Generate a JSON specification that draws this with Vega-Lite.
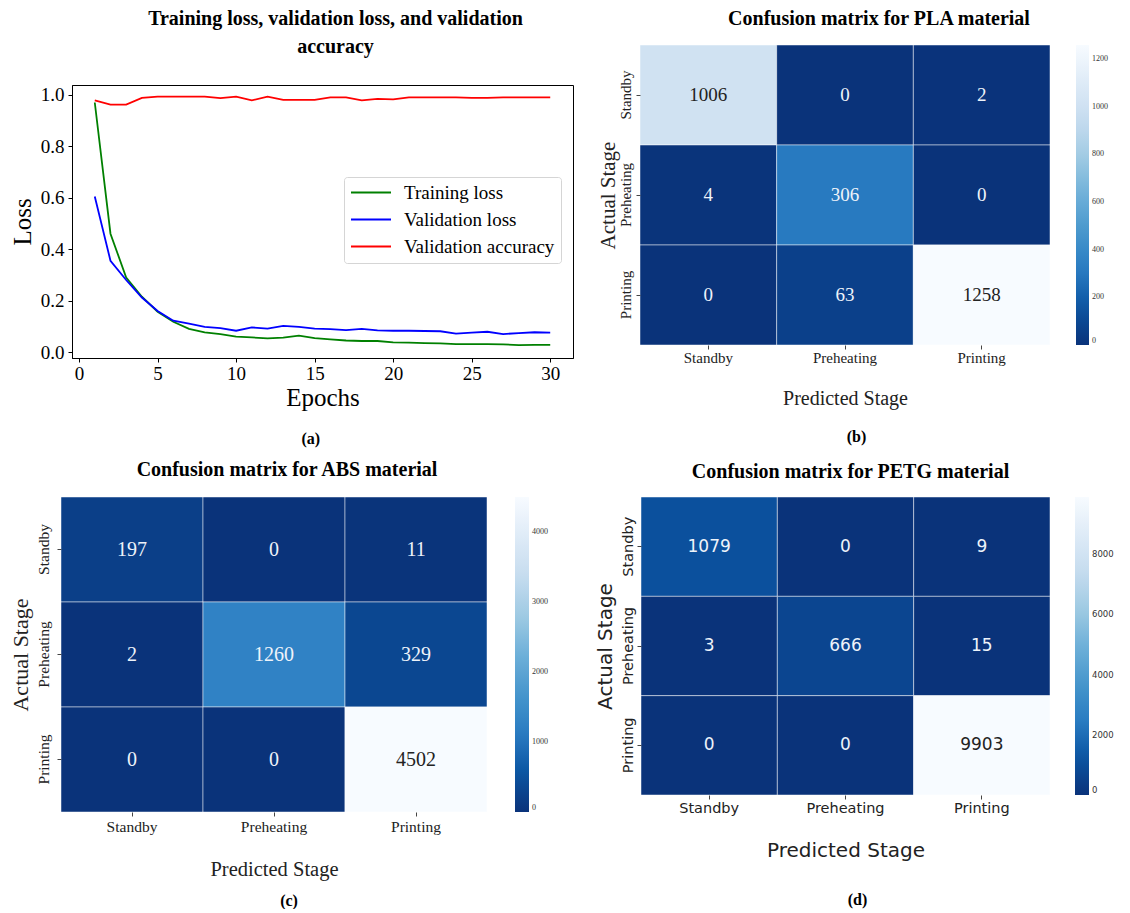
{
  "$schema": "https://vega.github.io/schema/vega-lite/v6.json",
  "background": "white",
  "padding": {"left": 8, "top": 7, "right": 0, "bottom": 0},
  "config": {
    "font": "Liberation Serif",
    "view": {"stroke": null},
    "title": {"color": "black", "font": "Liberation Serif"},
    "axis": {"labelColor": "black", "titleColor": "black", "titleFontWeight": "normal", "grid": false}
  },
  "datasets": {
    "empty": [],
    "loss": [
      {"epoch": 1, "series": "Training loss", "value": 0.97},
      {"epoch": 2, "series": "Training loss", "value": 0.46},
      {"epoch": 3, "series": "Training loss", "value": 0.29},
      {"epoch": 4, "series": "Training loss", "value": 0.215},
      {"epoch": 5, "series": "Training loss", "value": 0.157},
      {"epoch": 6, "series": "Training loss", "value": 0.118},
      {"epoch": 7, "series": "Training loss", "value": 0.09},
      {"epoch": 8, "series": "Training loss", "value": 0.077},
      {"epoch": 9, "series": "Training loss", "value": 0.07},
      {"epoch": 10, "series": "Training loss", "value": 0.06},
      {"epoch": 11, "series": "Training loss", "value": 0.057},
      {"epoch": 12, "series": "Training loss", "value": 0.053},
      {"epoch": 13, "series": "Training loss", "value": 0.056},
      {"epoch": 14, "series": "Training loss", "value": 0.064},
      {"epoch": 15, "series": "Training loss", "value": 0.054},
      {"epoch": 16, "series": "Training loss", "value": 0.049},
      {"epoch": 17, "series": "Training loss", "value": 0.045},
      {"epoch": 18, "series": "Training loss", "value": 0.043},
      {"epoch": 19, "series": "Training loss", "value": 0.043},
      {"epoch": 20, "series": "Training loss", "value": 0.038},
      {"epoch": 21, "series": "Training loss", "value": 0.037},
      {"epoch": 22, "series": "Training loss", "value": 0.035},
      {"epoch": 23, "series": "Training loss", "value": 0.034},
      {"epoch": 24, "series": "Training loss", "value": 0.031},
      {"epoch": 25, "series": "Training loss", "value": 0.031},
      {"epoch": 26, "series": "Training loss", "value": 0.031},
      {"epoch": 27, "series": "Training loss", "value": 0.03},
      {"epoch": 28, "series": "Training loss", "value": 0.027},
      {"epoch": 29, "series": "Training loss", "value": 0.028},
      {"epoch": 30, "series": "Training loss", "value": 0.028},
      {"epoch": 1, "series": "Validation loss", "value": 0.605},
      {"epoch": 2, "series": "Validation loss", "value": 0.355},
      {"epoch": 3, "series": "Validation loss", "value": 0.28},
      {"epoch": 4, "series": "Validation loss", "value": 0.212},
      {"epoch": 5, "series": "Validation loss", "value": 0.16},
      {"epoch": 6, "series": "Validation loss", "value": 0.122},
      {"epoch": 7, "series": "Validation loss", "value": 0.111},
      {"epoch": 8, "series": "Validation loss", "value": 0.098},
      {"epoch": 9, "series": "Validation loss", "value": 0.093},
      {"epoch": 10, "series": "Validation loss", "value": 0.083},
      {"epoch": 11, "series": "Validation loss", "value": 0.096},
      {"epoch": 12, "series": "Validation loss", "value": 0.091},
      {"epoch": 13, "series": "Validation loss", "value": 0.102},
      {"epoch": 14, "series": "Validation loss", "value": 0.098},
      {"epoch": 15, "series": "Validation loss", "value": 0.091},
      {"epoch": 16, "series": "Validation loss", "value": 0.089},
      {"epoch": 17, "series": "Validation loss", "value": 0.085},
      {"epoch": 18, "series": "Validation loss", "value": 0.09},
      {"epoch": 19, "series": "Validation loss", "value": 0.084},
      {"epoch": 20, "series": "Validation loss", "value": 0.083},
      {"epoch": 21, "series": "Validation loss", "value": 0.083},
      {"epoch": 22, "series": "Validation loss", "value": 0.082},
      {"epoch": 23, "series": "Validation loss", "value": 0.081},
      {"epoch": 24, "series": "Validation loss", "value": 0.072},
      {"epoch": 25, "series": "Validation loss", "value": 0.076},
      {"epoch": 26, "series": "Validation loss", "value": 0.079},
      {"epoch": 27, "series": "Validation loss", "value": 0.07},
      {"epoch": 28, "series": "Validation loss", "value": 0.074},
      {"epoch": 29, "series": "Validation loss", "value": 0.077},
      {"epoch": 30, "series": "Validation loss", "value": 0.076},
      {"epoch": 1, "series": "Validation accuracy", "value": 0.978},
      {"epoch": 2, "series": "Validation accuracy", "value": 0.962},
      {"epoch": 3, "series": "Validation accuracy", "value": 0.962},
      {"epoch": 4, "series": "Validation accuracy", "value": 0.988},
      {"epoch": 5, "series": "Validation accuracy", "value": 0.993},
      {"epoch": 6, "series": "Validation accuracy", "value": 0.993},
      {"epoch": 7, "series": "Validation accuracy", "value": 0.993},
      {"epoch": 8, "series": "Validation accuracy", "value": 0.993},
      {"epoch": 9, "series": "Validation accuracy", "value": 0.987},
      {"epoch": 10, "series": "Validation accuracy", "value": 0.993},
      {"epoch": 11, "series": "Validation accuracy", "value": 0.978},
      {"epoch": 12, "series": "Validation accuracy", "value": 0.993},
      {"epoch": 13, "series": "Validation accuracy", "value": 0.98},
      {"epoch": 14, "series": "Validation accuracy", "value": 0.98},
      {"epoch": 15, "series": "Validation accuracy", "value": 0.98},
      {"epoch": 16, "series": "Validation accuracy", "value": 0.99},
      {"epoch": 17, "series": "Validation accuracy", "value": 0.99},
      {"epoch": 18, "series": "Validation accuracy", "value": 0.978},
      {"epoch": 19, "series": "Validation accuracy", "value": 0.984},
      {"epoch": 20, "series": "Validation accuracy", "value": 0.982},
      {"epoch": 21, "series": "Validation accuracy", "value": 0.99},
      {"epoch": 22, "series": "Validation accuracy", "value": 0.99},
      {"epoch": 23, "series": "Validation accuracy", "value": 0.99},
      {"epoch": 24, "series": "Validation accuracy", "value": 0.99},
      {"epoch": 25, "series": "Validation accuracy", "value": 0.988},
      {"epoch": 26, "series": "Validation accuracy", "value": 0.988},
      {"epoch": 27, "series": "Validation accuracy", "value": 0.99},
      {"epoch": 28, "series": "Validation accuracy", "value": 0.99},
      {"epoch": 29, "series": "Validation accuracy", "value": 0.99},
      {"epoch": 30, "series": "Validation accuracy", "value": 0.99}
    ],
    "pla": [
      {"actual": "Standby", "predicted": "Standby", "count": 1006},
      {"actual": "Standby", "predicted": "Preheating", "count": 0},
      {"actual": "Standby", "predicted": "Printing", "count": 2},
      {"actual": "Preheating", "predicted": "Standby", "count": 4},
      {"actual": "Preheating", "predicted": "Preheating", "count": 306},
      {"actual": "Preheating", "predicted": "Printing", "count": 0},
      {"actual": "Printing", "predicted": "Standby", "count": 0},
      {"actual": "Printing", "predicted": "Preheating", "count": 63},
      {"actual": "Printing", "predicted": "Printing", "count": 1258}
    ],
    "abs": [
      {"actual": "Standby", "predicted": "Standby", "count": 197},
      {"actual": "Standby", "predicted": "Preheating", "count": 0},
      {"actual": "Standby", "predicted": "Printing", "count": 11},
      {"actual": "Preheating", "predicted": "Standby", "count": 2},
      {"actual": "Preheating", "predicted": "Preheating", "count": 1260},
      {"actual": "Preheating", "predicted": "Printing", "count": 329},
      {"actual": "Printing", "predicted": "Standby", "count": 0},
      {"actual": "Printing", "predicted": "Preheating", "count": 0},
      {"actual": "Printing", "predicted": "Printing", "count": 4502}
    ],
    "petg": [
      {"actual": "Standby", "predicted": "Standby", "count": 1079},
      {"actual": "Standby", "predicted": "Preheating", "count": 0},
      {"actual": "Standby", "predicted": "Printing", "count": 9},
      {"actual": "Preheating", "predicted": "Standby", "count": 3},
      {"actual": "Preheating", "predicted": "Preheating", "count": 666},
      {"actual": "Preheating", "predicted": "Printing", "count": 15},
      {"actual": "Printing", "predicted": "Standby", "count": 0},
      {"actual": "Printing", "predicted": "Preheating", "count": 0},
      {"actual": "Printing", "predicted": "Printing", "count": 9903}
    ]
  },
  "spacing": 12,
  "vconcat": [
    {
      "spacing": 23,
      "hconcat": [
        {
          "title": {"text": "(a)", "orient": "bottom", "anchor": "middle", "frame": "bounds", "fontSize": 16, "fontWeight": "bold", "offset": 20, "dx": 20},
          "spacing": 0,
          "vconcat": [
            {"width": 1, "height": 1, "data": {"name": "empty"}, "mark": {"type": "point", "opacity": 0}, "encoding": {}},
            {
              "spacing": 0,
              "hconcat": [
                {"width": 1, "height": 1, "data": {"name": "empty"}, "mark": {"type": "point", "opacity": 0}, "encoding": {}},
                {
                  "width": 501,
                  "height": 273,
                  "view": {"stroke": "black", "strokeWidth": 1},
                  "title": {"text": ["Training loss, validation loss, and validation", "accuracy"], "anchor": "middle", "frame": "group", "dx": 13, "fontSize": 20, "fontWeight": "bold", "lineHeight": 28, "offset": 28},
                  "data": {"name": "loss"},
                  "mark": {"type": "line", "strokeWidth": 1.8},
                  "encoding": {
                    "x": {"field": "epoch", "type": "quantitative", "scale": {"domain": [-0.45, 31.45], "nice": false, "zero": false},
                      "axis": {"values": [0, 5, 10, 15, 20, 25, 30], "title": "Epochs", "labelFontSize": 19, "titleFontSize": 25, "domainColor": "black", "tickColor": "black", "tickSize": 4, "labelPadding": 2, "titlePadding": 2, "labelFlush": false}},
                    "y": {"field": "value", "type": "quantitative", "scale": {"domain": [-0.023, 1.038], "nice": false, "zero": false},
                      "axis": {"values": [0, 0.2, 0.4, 0.6, 0.8, 1.0], "format": ".1f", "title": "Loss", "labelFontSize": 19, "titleFontSize": 25, "domainColor": "black", "tickColor": "black", "tickSize": 4, "labelPadding": 4, "titlePadding": 5}},
                    "color": {"field": "series", "type": "nominal",
                      "scale": {"domain": ["Training loss", "Validation loss", "Validation accuracy"], "range": ["#008000", "#0000ff", "#ff0000"]},
                      "legend": {"orient": "none", "legendX": 336, "legendY": 170, "title": null, "symbolType": "stroke", "symbolSize": 1600, "clipHeight": 19, "symbolStrokeWidth": 2, "labelFontSize": 19, "labelColor": "black", "labelOffset": 12, "rowPadding": 7, "padding": 6, "strokeColor": "#d5d5d5", "fillColor": "white", "cornerRadius": 3, "labelLimit": 300}}
                  }
                }
              ]
            }
          ]
        },
        {
          "title": {"text": "(b)", "orient": "bottom", "anchor": "middle", "frame": "bounds", "fontSize": 16, "fontWeight": "bold", "offset": 21, "dx": 4},
          "spacing": 0,
          "vconcat": [
            {"width": 1, "height": 1, "data": {"name": "empty"}, "mark": {"type": "point", "opacity": 0}, "encoding": {}},
            {
              "width": 410,
              "height": 300,
              "title": {"text": "Confusion matrix for PLA material", "anchor": "middle", "frame": "group", "dx": 34, "fontSize": 20, "fontWeight": "bold", "offset": 16},
              "data": {"name": "pla"},
              "encoding": {
                "x": {"field": "predicted", "type": "nominal", "sort": ["Standby", "Preheating", "Printing"], "scale": {"paddingInner": 0, "paddingOuter": 0},
                  "axis": {"title": "Predicted Stage", "labelAngle": 0, "labelFontSize": 15, "titleFontSize": 20, "domain": false, "tickSize": 4, "tickColor": "#444", "labelPadding": 1, "titlePadding": 23, "labelColor": "#222", "titleColor": "#222"}},
                "y": {"field": "actual", "type": "nominal", "sort": ["Standby", "Preheating", "Printing"], "scale": {"paddingInner": 0, "paddingOuter": 0},
                  "axis": {"title": "Actual Stage", "labelAngle": -90, "labelAlign": "center", "labelBaseline": "bottom", "labelFontSize": 15, "titleFontSize": 21, "domain": false, "tickSize": 4, "tickColor": "#444", "labelPadding": 3, "titlePadding": 0, "labelColor": "#222", "titleColor": "#222"}}
              },
              "layer": [
                {
                  "mark": {"type": "rect", "stroke": "white", "strokeWidth": 0.8, "strokeOpacity": 0.6},
                  "encoding": {
                    "color": {"field": "count", "type": "quantitative",
                      "scale": {"domain": [0, 157.25, 314.5, 471.75, 629, 786.25, 943.5, 1100.75, 1258], "range": ["#0a337a", "#0a55a2", "#2a7cc2", "#4696cc", "#6eb0d9", "#9fcbe3", "#c6dcef", "#deebf7", "#f7fbff"]},
                      "legend": {"title": null, "orient": "right", "offset": 26, "direction": "vertical", "gradientLength": 300, "gradientThickness": 13, "values": [0, 200, 400, 600, 800, 1000, 1200], "format": "d", "labelFontSize": 8, "labelColor": "#333333", "gradientStrokeWidth": 0, "labelOffset": 3}}
                  }
                },
                {
                  "mark": {"type": "text", "fontSize": 19, "font": "Liberation Serif"},
                  "encoding": {
                    "text": {"field": "count", "type": "quantitative"},
                    "color": {"condition": {"test": "datum.count > 700", "value": "#222222"}, "value": "#eef3fa"}
                  }
                }
              ],
              "resolve": {"scale": {"color": "independent"}}
            }
          ]
        }
      ]
    },
    {
      "spacing": 46,
      "hconcat": [
        {
          "title": {"text": "(c)", "orient": "bottom", "anchor": "middle", "frame": "bounds", "fontSize": 16, "fontWeight": "bold", "offset": 13, "dx": 11},
          "spacing": 0,
          "hconcat": [
            {"width": 1, "height": 1, "data": {"name": "empty"}, "mark": {"type": "point", "opacity": 0}, "encoding": {}},
            {
              "width": 426,
              "height": 315,
              "title": {"text": "Confusion matrix for ABS material", "anchor": "middle", "frame": "group", "dx": 13, "fontSize": 20, "fontWeight": "bold", "offset": 17},
              "data": {"name": "abs"},
              "encoding": {
                "x": {"field": "predicted", "type": "nominal", "sort": ["Standby", "Preheating", "Printing"], "scale": {"paddingInner": 0, "paddingOuter": 0},
                  "axis": {"title": "Predicted Stage", "labelAngle": 0, "labelFontSize": 15.5, "titleFontSize": 20.5, "domain": false, "tickSize": 4, "tickColor": "#444", "labelPadding": 3, "titlePadding": 25, "labelColor": "#222", "titleColor": "#222"}},
                "y": {"field": "actual", "type": "nominal", "sort": ["Standby", "Preheating", "Printing"], "scale": {"paddingInner": 0, "paddingOuter": 0},
                  "axis": {"title": "Actual Stage", "labelAngle": -90, "labelAlign": "center", "labelBaseline": "bottom", "labelFontSize": 15.5, "titleFontSize": 22, "domain": false, "tickSize": 4, "tickColor": "#444", "labelPadding": 6, "titlePadding": 4, "labelColor": "#222", "titleColor": "#222"}}
              },
              "layer": [
                {
                  "mark": {"type": "rect", "stroke": "white", "strokeWidth": 0.8, "strokeOpacity": 0.6},
                  "encoding": {
                    "color": {"field": "count", "type": "quantitative",
                      "scale": {"domain": [0, 562.75, 1125.5, 1688.25, 2251, 2813.75, 3376.5, 3939.25, 4502], "range": ["#0a337a", "#0a55a2", "#2a7cc2", "#4696cc", "#6eb0d9", "#9fcbe3", "#c6dcef", "#deebf7", "#f7fbff"]},
                      "legend": {"title": null, "orient": "right", "offset": 28, "direction": "vertical", "gradientLength": 315, "gradientThickness": 14, "values": [0, 1000, 2000, 3000, 4000], "format": "d", "labelFontSize": 8, "labelColor": "#333333", "gradientStrokeWidth": 0, "labelOffset": 3}}
                  }
                },
                {
                  "mark": {"type": "text", "fontSize": 20, "font": "Liberation Serif"},
                  "encoding": {
                    "text": {"field": "count", "type": "quantitative"},
                    "color": {"condition": {"test": "datum.count > 2500", "value": "#222222"}, "value": "#eef3fa"}
                  }
                }
              ],
              "resolve": {"scale": {"color": "independent"}}
            }
          ]
        },
        {
          "title": {"text": "(d)", "orient": "bottom", "anchor": "middle", "frame": "bounds", "fontSize": 16, "fontWeight": "bold", "offset": 31, "dx": 3},
          "vconcat": [
            {
              "width": 409,
              "height": 298,
              "title": {"text": "Confusion matrix for PETG  material", "anchor": "middle", "frame": "group", "dx": 5, "fontSize": 20, "fontWeight": "bold", "offset": 15},
              "data": {"name": "petg"},
              "encoding": {
                "x": {"field": "predicted", "type": "nominal", "sort": ["Standby", "Preheating", "Printing"], "scale": {"paddingInner": 0, "paddingOuter": 0},
                  "axis": {"title": "Predicted Stage", "labelAngle": 0, "labelFont": "DejaVu Sans", "titleFont": "DejaVu Sans", "labelFontSize": 14.5, "titleFontSize": 20, "domain": false, "tickSize": 4, "tickColor": "#444", "labelPadding": 2, "titlePadding": 26, "labelColor": "#222", "titleColor": "#222"}},
                "y": {"field": "actual", "type": "nominal", "sort": ["Standby", "Preheating", "Printing"], "scale": {"paddingInner": 0, "paddingOuter": 0},
                  "axis": {"title": "Actual Stage", "labelAngle": -90, "labelAlign": "center", "labelBaseline": "bottom", "labelFont": "DejaVu Sans", "titleFont": "DejaVu Sans", "labelFontSize": 14.5, "titleFontSize": 20, "domain": false, "tickSize": 4, "tickColor": "#444", "labelPadding": 2, "titlePadding": 5, "labelColor": "#222", "titleColor": "#222"}}
              },
              "layer": [
                {
                  "mark": {"type": "rect", "stroke": "white", "strokeWidth": 0.8, "strokeOpacity": 0.6},
                  "encoding": {
                    "color": {"field": "count", "type": "quantitative",
                      "scale": {"domain": [0, 1237.875, 2475.75, 3713.625, 4951.5, 6189.375, 7427.25, 8665.125, 9903], "range": ["#0a337a", "#0a55a2", "#2a7cc2", "#4696cc", "#6eb0d9", "#9fcbe3", "#c6dcef", "#deebf7", "#f7fbff"]},
                      "legend": {"title": null, "orient": "right", "offset": 25, "direction": "vertical", "gradientLength": 298, "gradientThickness": 14, "values": [0, 2000, 4000, 6000, 8000], "format": "d", "labelFont": "DejaVu Sans", "labelFontSize": 8.5, "labelColor": "#333333", "gradientStrokeWidth": 0, "labelOffset": 3}}
                  }
                },
                {
                  "mark": {"type": "text", "fontSize": 17, "font": "DejaVu Sans"},
                  "encoding": {
                    "text": {"field": "count", "type": "quantitative"},
                    "color": {"condition": {"test": "datum.count > 5000", "value": "#222222"}, "value": "#eef3fa"}
                  }
                }
              ],
              "resolve": {"scale": {"color": "independent"}}
            }
          ]
        }
      ]
    }
  ]
}
